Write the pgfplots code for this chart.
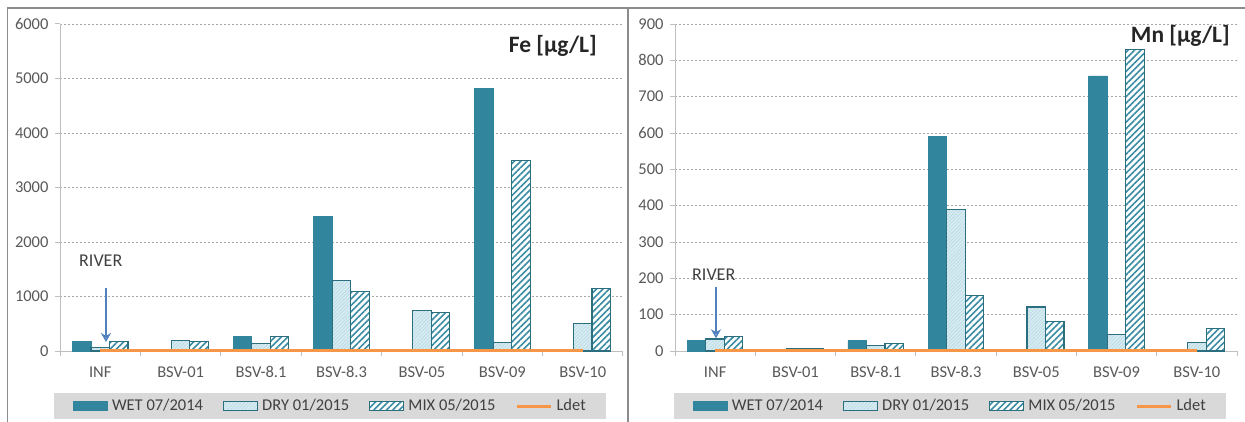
\documentclass[border=0pt]{standalone}
\usepackage{pgfplots}
\pgfplotsset{compat=1.18}
\usepackage{fontspec}
\setmainfont{Carlito}
\usetikzlibrary{patterns.meta,arrows.meta}
\definecolor{wet}{HTML}{31859C}
\definecolor{dryfill}{HTML}{D6ECF2}
\definecolor{dryline}{HTML}{2B6E80}
\definecolor{drypat}{HTML}{B3D6E0}
\definecolor{mixpat}{HTML}{3A8CA3}
\definecolor{ldet}{HTML}{F79646}
\definecolor{axgray}{HTML}{BFBFBF}
\definecolor{gridgray}{HTML}{A6A6A6}
\definecolor{tickgray}{HTML}{595959}
\definecolor{leggray}{HTML}{D9D9D9}
\definecolor{framegray}{HTML}{8C8C8C}
\definecolor{rivertxt}{HTML}{404040}
\definecolor{arrowblue}{HTML}{4F81BD}

\pgfplotsset{
  mychart/.style={
    scale only axis, anchor=south west,
    xmin=-0.5, xmax=6.5, ymin=0,
    clip=false,
    axis x line=bottom, axis y line=left,
    axis line style={-, draw=axgray, line width=1pt},
    xtick={0,...,6},
    xticklabels={INF,BSV-01,BSV-8.1,BSV-8.3,BSV-05,BSV-09,BSV-10},
    minor xtick={-0.5,0.5,...,6.5},
    major x tick style={draw=none},
    minor x tick style={draw=axgray, line width=1pt},
    y tick style={draw=axgray, line width=1pt},
    tick align=outside, major tick length=5pt, minor tick length=5pt,
    ymajorgrids,
    grid style={draw=gridgray, line width=0.8pt, dash pattern=on 2pt off 2pt},
    ticklabel style={font=\fontsize{16.5}{18}\selectfont, text=tickgray},
    xticklabel style={yshift=-7pt},
    yticklabel style={xshift=-3pt},
    /pgf/number format/assume math mode=true,
    /pgf/number format/1000 sep={},
    legend columns=4,
    legend style={draw=none, fill=leggray, anchor=center,
      font=\fontsize{16.5}{18}\selectfont, text=rivertxt,
      inner xsep=19pt, inner ysep=5pt,
      nodes={inner xsep=1.5pt, inner ysep=2pt},
      /tikz/every odd column/.append style={column sep=3pt},
      /tikz/every even column/.append style={column sep=18pt}},
  },
  barleg/.style={legend image code/.code={\draw[##1] (0pt,-4.5pt) rectangle (34pt,4.5pt);}},
  lineleg/.style={legend image code/.code={\draw[##1] (0pt,0pt) -- (34pt,0pt);}},
  wetstyle/.style={ybar, bar width=18.5pt, bar shift=-18.5pt, fill=wet, draw=wet, line width=0.8pt, barleg},
  drystyle/.style={ybar, bar width=18.5pt, bar shift=0pt, fill=dryfill, draw=dryline, line width=1.1pt,
      postaction={pattern={Lines[angle=45,distance=2.5pt,line width=0.5pt]}, pattern color=drypat}, barleg},
  mixstyle/.style={ybar, bar width=18.5pt, bar shift=18.5pt, fill=white, draw=dryline, line width=1.1pt,
      postaction={pattern={Lines[angle=45,distance=4.5pt,line width=1.6pt]}, pattern color=mixpat}, barleg},
  ldetstyle/.style={sharp plot, draw=ldet, line width=3pt, mark=none, lineleg},
}

\begin{document}
\begin{tikzpicture}
\useasboundingbox (0pt,0pt) rectangle (1245pt,421pt);
\fill[white] (0pt,0pt) rectangle (1245pt,421pt);
% frames
\draw[framegray, line width=1.6pt] (7.5pt,-5pt) -- (7.5pt,413pt) -- (1250pt,413pt);
\draw[framegray, line width=2pt] (627.5pt,-5pt) -- (627.5pt,413pt);

% ---------- Fe ----------
\begin{axis}[mychart, at={(60pt,70pt)}, width=563pt, height=327pt,
  ymax=6000, ytick={0,1000,...,6000},
  legend style={at={(0.4796,-0.1682)}}]
\addplot[wetstyle] coordinates {(0,170) (2,270) (3,2470) (5,4820)};
\addlegendentry{WET 07/2014}
\addplot[drystyle] coordinates {(0,70) (1,190) (2,140) (3,1300) (4,750) (5,150) (6,510)};
\addlegendentry{DRY 01/2015}
\addplot[mixstyle] coordinates {(0,180) (1,180) (2,270) (3,1100) (4,700) (5,3490) (6,1150)};
\addlegendentry{MIX 05/2015}
\addplot[ldetstyle] coordinates {(0,15) (1,15) (2,15) (3,15) (4,15) (5,15) (6,15)};
\addlegendentry{Ldet}
\end{axis}
\node[anchor=base east, inner sep=0pt, font=\bfseries\fontsize{23.5}{26}\selectfont, text=black!85] at (597pt,368pt) {Fe [µg/L]};
\node[anchor=base west, font=\fontsize{18}{20}\selectfont, text=rivertxt, inner sep=0pt] at (79pt,154.3pt) {RIVER};
\draw[arrowblue, line width=1.7pt, -{Stealth[length=9pt,width=10pt,open]}] (106pt,133pt) -- (106pt,79pt);

% ---------- Mn ----------
\begin{axis}[mychart, at={(675pt,70pt)}, width=562pt, height=327pt,
  ymax=900, ytick={0,100,...,900},
  legend style={at={(0.4893,-0.1682)}}]
\addplot[wetstyle] coordinates {(0,28) (2,28) (3,590) (5,757)};
\addlegendentry{WET 07/2014}
\addplot[drystyle] coordinates {(0,33) (1,8) (2,15) (3,390) (4,121) (5,46) (6,24)};
\addlegendentry{DRY 01/2015}
\addplot[mixstyle] coordinates {(0,40) (1,8) (2,20) (3,152) (4,82) (5,830) (6,62)};
\addlegendentry{MIX 05/2015}
\addplot[ldetstyle] coordinates {(0,2) (1,2) (2,2) (3,2) (4,2) (5,2) (6,2)};
\addlegendentry{Ldet}
\end{axis}
\node[anchor=base east, inner sep=0pt, font=\bfseries\fontsize{23.5}{26}\selectfont, text=black!85] at (1230pt,378pt) {Mn [µg/L]};
\node[anchor=base west, font=\fontsize{18}{20}\selectfont, text=rivertxt, inner sep=0pt] at (692pt,141pt) {RIVER};
\draw[arrowblue, line width=1.7pt, -{Stealth[length=9pt,width=10pt,open]}] (716pt,133.7pt) -- (716pt,82.7pt);
\end{tikzpicture}
\end{document}
